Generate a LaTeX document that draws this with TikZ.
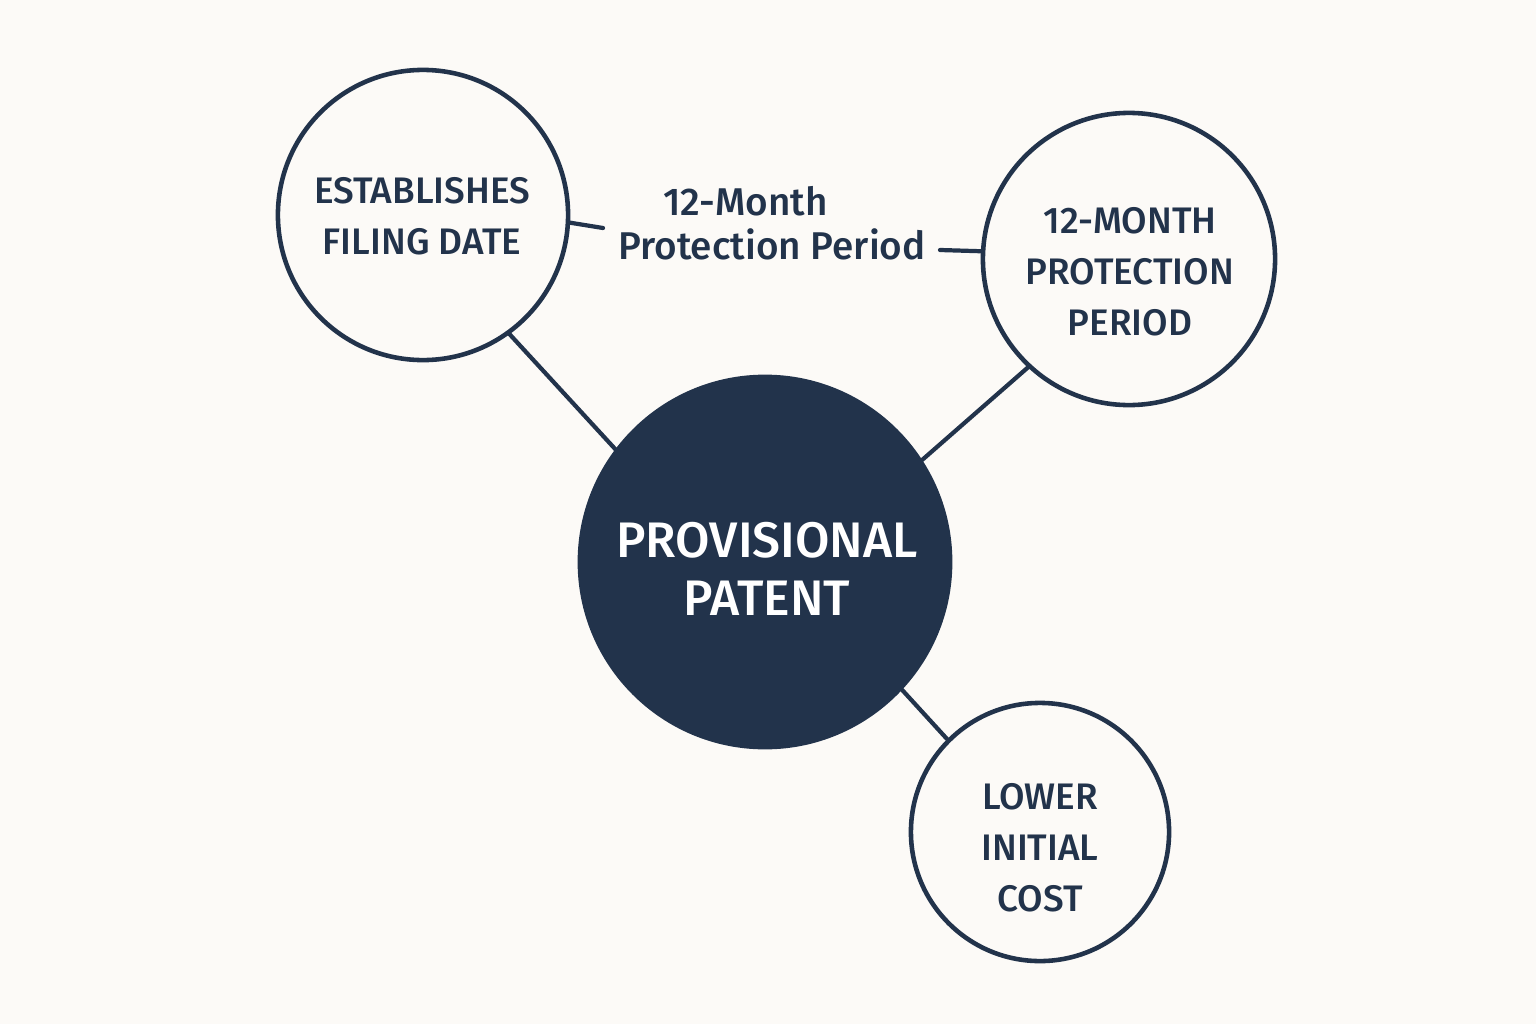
\documentclass[tikz,border=0pt]{standalone}
\usepackage{fontspec}
\setmainfont{Fira Sans}[UprightFont={* Medium},BoldFont={* SemiBold}]
\definecolor{navy}{HTML}{22334B}
\definecolor{paper}{HTML}{FCFAF7}

\begin{document}
\begin{tikzpicture}[x=0.01cm,y=-0.01cm,
  ring/.style={circle,draw=navy,line width=1.3pt,fill=paper,inner sep=0pt},
  hub/.style={circle,draw=navy,fill=navy,line width=1.3pt,inner sep=0pt},
  ringtext/.style={align=center,text=navy,font=\fontsize{10.5}{14.5}\selectfont},
  link/.style={draw=navy,line width=1.2pt,line cap=round}]

\newcommand\RA{2.90cm}
\newcommand\RB{2.92cm}
\newcommand\RC{2.58cm}

\fill[paper] (0,0) rectangle (1536,1024);
\useasboundingbox (0,0) rectangle (1536,1024);

%% circles
\node[hub,minimum size=3.70cm] (hub) at (765,562) {};
\node[ring,minimum size=\RA] (filing) at (423,215) {};
\node[ring,minimum size=\RB] (period) at (1129,259) {};
\node[ring,minimum size=\RC] (cost) at (1040,832) {};

%% texts
\node[align=center,text=white,font=\fontsize{14.2}{16.5}\selectfont] (hubtxt) at (767,569)
  {PROVISIONAL\\PATENT};
\node[ringtext] (filingtxt) at (422,216) {ESTABLISHES\\FILING DATE};
\node[ringtext] (periodtxt) at (1130,272) {12-MONTH\\PROTECTION\\PERIOD};
\node[ringtext] (costtxt) at (1040,848) {LOWER\\INITIAL\\COST};
\node[align=center,text=navy,font=\fontsize{11}{12.5}\selectfont] (lbl) at (772,223)
  {12-Month\hspace*{15pt}\\Protection Period};

\coordinate (lblw) at (603,228);
\coordinate (lble) at (940,250);

%% links
\draw[link] (filing.-54) -- (hub.143);
\draw[link] (hub.33) -- (period.227);
\draw[link] (hub.-43) -- (cost.135);
\draw[link] (filing.-3) -- (lblw);
\draw[link] (lble) -- (period.177);

\end{tikzpicture}
\end{document}
